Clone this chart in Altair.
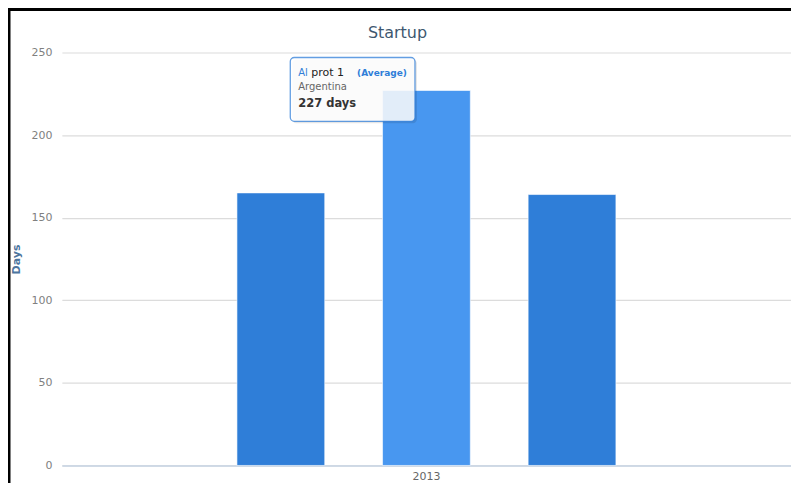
import altair as alt
import pandas as pd

# ---- chart values ----
years = ["2013", "2013", "2013"]
countries = ["Country A", "Argentina", "Country B"]
days = [165, 227, 164]
y_ticks = [0, 50, 100, 150, 200, 250]

# ---- tooltip texts (as shown in the picture) ----
tip_prefix = ["Al"]
tip_series = ["prot 1"]
tip_tag = ["(Average)"]
tip_category = ["Argentina"]
tip_value = ["227 days"]

df = pd.DataFrame({"year": years, "country": countries, "days": days})

FONT = "DejaVu Sans"
BLUE = "#2f7ed8"
HOVER = "#4897f0"

bars = alt.Chart(df).mark_bar(stroke="white", strokeWidth=1, strokeOpacity=0.6).encode(
    x=alt.X(
        "year:N",
        title=None,
        scale=alt.Scale(paddingInner=0, paddingOuter=0.462),
        axis=alt.Axis(labelAngle=0, ticks=False, domainColor="#c6d3e3", domainWidth=1.5,
                      labelColor="#666666", labelFontSize=11, labelFont=FONT,
                      labelPadding=5, grid=False),
    ),
    xOffset=alt.XOffset("country:N", sort=countries,
                        scale=alt.Scale(paddingInner=0.397, paddingOuter=0)),
    y=alt.Y(
        "days:Q",
        title="Days",
        scale=alt.Scale(domain=[0, 250]),
        axis=alt.Axis(values=y_ticks, domain=False, ticks=False, grid=True,
                      gridColor="#dcdcdc", gridWidth=1.2,
                      labelColor="#808080", labelFontSize=11, labelFont=FONT,
                      labelPadding=10, titleFont=FONT, titleFontSize=11,
                      titleFontWeight="bold", titleColor="#4d759e", titlePadding=9),
    ),
    color=alt.condition(alt.datum.country == "Argentina", alt.value(HOVER), alt.value(BLUE)),
)

one = pd.DataFrame({"k": [0]})

shadow = alt.Chart(one).mark_rect(color="#000000", opacity=0.10, cornerRadius=4).encode(
    x=alt.value(231), x2=alt.value(356), y=alt.value(7), y2=alt.value(71)
)
box = alt.Chart(one).mark_rect(fill="white", fillOpacity=0.85, stroke=BLUE,
                               strokeOpacity=0.75, strokeWidth=1.3, cornerRadius=4).encode(
    x=alt.value(229), x2=alt.value(354), y=alt.value(5), y2=alt.value(69)
)


def txt(values, x, y, size, color, weight="normal"):
    d = pd.DataFrame({"t": values})
    return alt.Chart(d).mark_text(align="left", baseline="alphabetic", font=FONT,
                                  fontSize=size, color=color, fontWeight=weight).encode(
        x=alt.value(x), y=alt.value(y), text="t:N"
    )


t1 = txt(tip_prefix, 237, 24, 10, BLUE)
t2 = txt(tip_series, 250, 24, 11, "#222222")
t3 = txt(tip_tag, 296, 24, 9, BLUE, "bold")
t4 = txt(tip_category, 237, 38, 10, "#666666")
t5 = txt(tip_value, 237, 55, 11.5, "#333333", "bold")

border_left = alt.Chart(one).mark_rule(color="black", strokeWidth=3).encode(
    x=alt.value(-53), y=alt.value(-44), y2=alt.value(440)
)
border_top = alt.Chart(one).mark_rule(color="black", strokeWidth=3).encode(
    x=alt.value(-54), x2=alt.value(740), y=alt.value(-43)
)

chart = alt.layer(bars, shadow, box, t1, t2, t3, t4, t5, border_left, border_top).properties(
    width=731,
    height=414,
    title=alt.TitleParams("Startup", font=FONT, fontSize=16, fontWeight="normal",
                          color="#3e576f", anchor="middle", dx=-29, dy=40, offset=6),
    padding={"left": 54, "top": 44, "right": 0, "bottom": 17},
    autosize=alt.AutoSizeParams(type="none"),
    background="white",
).configure_view(stroke=None)

chart.save("out.html", embed_options={"renderer": "svg", "actions": False})
